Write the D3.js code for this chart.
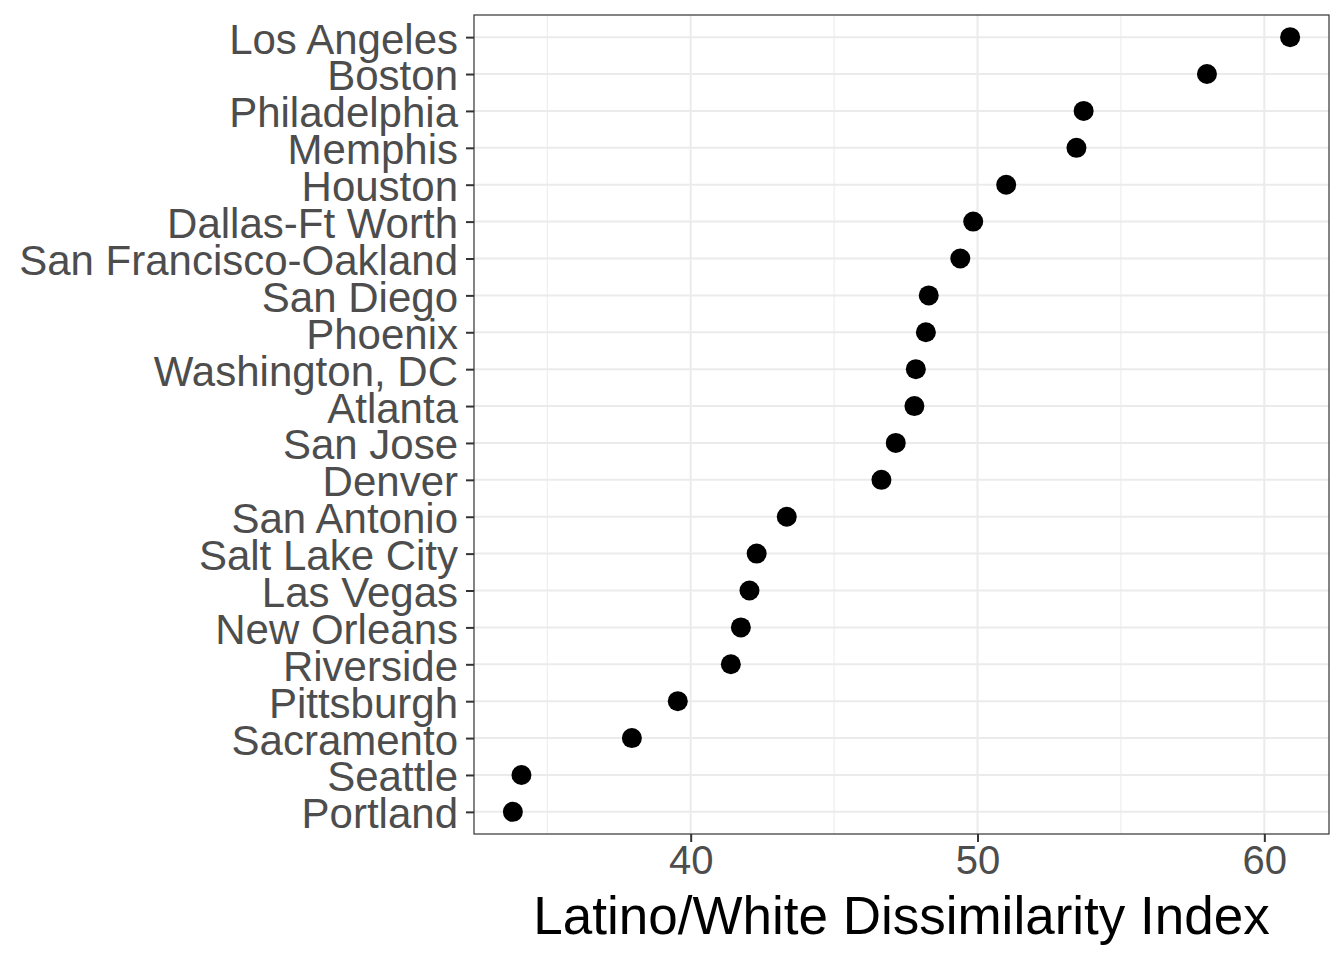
<!DOCTYPE html>
<html>
<head>
<meta charset="utf-8">
<script src="https://cdn.jsdelivr.net/npm/d3@7"></script>
<style>
  html, body { margin: 0; padding: 0; background: #ffffff; }
  svg { display: block; font-family: "Liberation Sans", Arial, Helvetica, sans-serif; }
</style>
</head>
<body>
<svg id="chart" width="1344" height="960"></svg>
<script>
// Data (ordered top to bottom as displayed)
const cities = ["Los Angeles", "Boston", "Philadelphia", "Memphis", "Houston", "Dallas-Ft Worth",
  "San Francisco-Oakland", "San Diego", "Phoenix", "Washington, DC", "Atlanta", "San Jose",
  "Denver", "San Antonio", "Salt Lake City", "Las Vegas", "New Orleans", "Riverside",
  "Pittsburgh", "Sacramento", "Seattle", "Portland"];
const dissimilarity = [60.9, 58.0, 53.7, 53.45, 51.0, 49.85, 49.4, 48.3, 48.2, 47.85, 47.8, 47.15,
  46.65, 43.35, 42.3, 42.05, 41.75, 41.4, 39.55, 37.95, 34.1, 33.8];
const xTicks = [40, 50, 60];
const xMinor = [35, 45, 55];
const xTitle = "Latino/White Dissimilarity Index";

const svg = d3.select("#chart");
const panel = { left: 474, right: 1329, top: 15, bottom: 834 };

const dmin = d3.min(dissimilarity), dmax = d3.max(dissimilarity);
const pad = (dmax - dmin) * 0.05;
const x = d3.scaleLinear().domain([dmin - pad, dmax + pad]).range([panel.left, panel.right]);

const step = (panel.bottom - panel.top) / (cities.length - 1 + 1.2);
const y = d3.scalePoint().domain(cities)
  .range([panel.top + 0.6 * step, panel.bottom - 0.6 * step]);

const grid = "#EBEBEB";
const g = svg.append("g");

// minor vertical gridlines
g.selectAll(".vminor").data(xMinor).join("line")
  .attr("x1", d => x(d)).attr("x2", d => x(d))
  .attr("y1", panel.top).attr("y2", panel.bottom)
  .attr("stroke", grid).attr("stroke-width", 1);

// major vertical gridlines
g.selectAll(".vmajor").data(xTicks).join("line")
  .attr("x1", d => x(d)).attr("x2", d => x(d))
  .attr("y1", panel.top).attr("y2", panel.bottom)
  .attr("stroke", grid).attr("stroke-width", 2);

// horizontal gridlines
g.selectAll(".hmajor").data(cities).join("line")
  .attr("x1", panel.left).attr("x2", panel.right)
  .attr("y1", d => y(d)).attr("y2", d => y(d))
  .attr("stroke", grid).attr("stroke-width", 2);

// points
g.selectAll(".pt").data(cities).join("circle")
  .attr("cx", (d, i) => x(dissimilarity[i]))
  .attr("cy", d => y(d))
  .attr("r", 10)
  .attr("fill", "#000000");

// panel border
svg.append("rect")
  .attr("x", panel.left).attr("y", panel.top)
  .attr("width", panel.right - panel.left).attr("height", panel.bottom - panel.top)
  .attr("fill", "none").attr("stroke", "#333333").attr("stroke-width", 1.2);

// y axis
const yAxis = d3.axisLeft(y).tickSize(8).tickPadding(8);
const ya = svg.append("g").attr("transform", `translate(${panel.left},0)`).call(yAxis);
ya.select(".domain").remove();
ya.selectAll(".tick line").attr("stroke", "#333333").attr("stroke-width", 2);
ya.selectAll(".tick text")
  .attr("fill", "#4D4D4D")
  .attr("font-size", 42)
  .attr("font-family", "'Liberation Sans', Arial, sans-serif")
  .attr("dy", "0.38em");

// x axis
const xAxis = d3.axisBottom(x).tickValues(xTicks).tickSize(8).tickPadding(6).tickFormat(d3.format("d"));
const xa = svg.append("g").attr("transform", `translate(0,${panel.bottom})`).call(xAxis);
xa.select(".domain").remove();
xa.selectAll(".tick line").attr("stroke", "#333333").attr("stroke-width", 2);
xa.selectAll(".tick text")
  .attr("fill", "#4D4D4D")
  .attr("font-size", 40)
  .attr("font-family", "'Liberation Sans', Arial, sans-serif")
  .attr("dy", null)
  .attr("y", 40);

// x title
svg.append("text")
  .attr("x", (panel.left + panel.right) / 2)
  .attr("y", 934)
  .attr("text-anchor", "middle")
  .attr("fill", "#000000")
  .attr("font-size", 53)
  .text(xTitle);
</script>
</body>
</html>
